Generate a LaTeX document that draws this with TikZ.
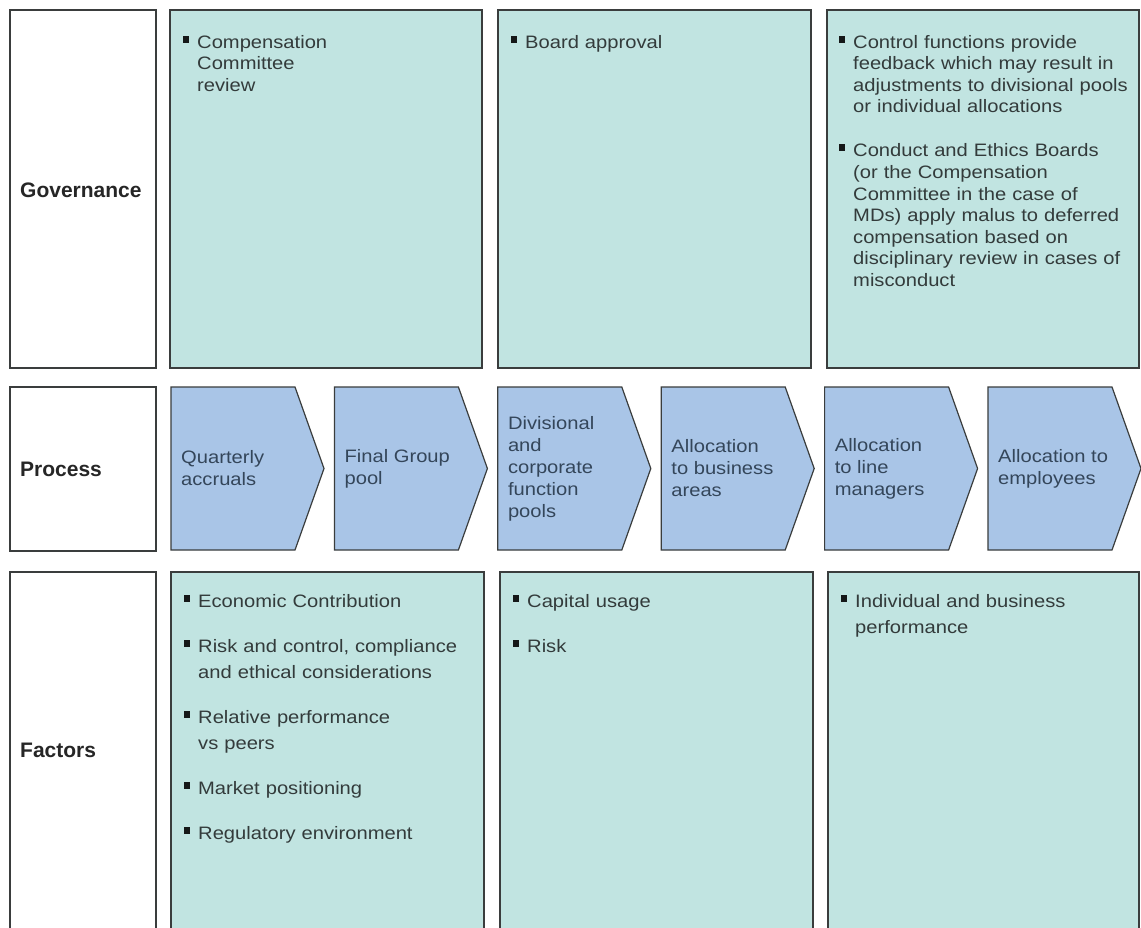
\documentclass[tikz,border=0pt]{standalone}
\usepackage{fontspec}
\setmainfont{Liberation Sans}[FakeStretch=1.12]
\newfontfamily\labelfont{Liberation Sans}

\definecolor{framecol}{HTML}{3A3D3D}
\definecolor{tealfill}{HTML}{C1E4E1}
\definecolor{chevfill}{HTML}{A9C5E7}
\definecolor{bodycol}{HTML}{333B3B}
\definecolor{chevtext}{HTML}{34465A}
\definecolor{labelcol}{HTML}{262626}
\definecolor{bulletcol}{HTML}{151818}

% square bullet hanging left of the text column
\newcommand\bul{\leavevmode\llap{\textcolor{bulletcol}{\rule[5.5pt]{5.5pt}{7pt}}\hspace{8.5pt}}}

\begin{document}
\begin{tikzpicture}[x=1pt,y=-1pt,
  frame/.style={draw=framecol, line width=1.2pt, inner sep=0pt, outer sep=0pt, anchor=north west},
  rowlabel/.style={frame, fill=white},
  cellbox/.style={frame, fill=tealfill},
  labeltext/.style={anchor=base west, inner sep=0pt, text=labelcol,
    font=\labelfont\bfseries\fontsize{21}{25}\selectfont},
  govtext/.style={anchor=base west, inner sep=0pt, text width=300pt, align=left,
    text=bodycol, font=\fontsize{18}{21.6}\selectfont},
  factext/.style={anchor=base west, inner sep=0pt, text width=300pt, align=left,
    text=bodycol, font=\fontsize{18}{26}\selectfont},
  chevron/.style={draw=framecol, line width=1.2pt, fill=chevfill, line join=miter},
  steptext/.style={anchor=west, inner sep=0pt, align=left, text=chevtext,
    font=\fontsize{18}{22}\selectfont}
]
\useasboundingbox (0,0) rectangle (1141,927);
\fill[white] (0,0) rectangle (1141,927);

% row headings
\node[rowlabel, minimum width=146pt, minimum height=358pt] (govL) at (10,10) {};
\node[rowlabel, minimum width=146pt, minimum height=164pt] (procL) at (10,387) {};
\node[rowlabel, minimum width=146pt, minimum height=362pt] (facL) at (10,572) {};
\node[labeltext] (govT) at (20,197) {Governance};
\node[labeltext] (procT) at (20,476) {Process};
\node[labeltext] (facT) at (20,757) {Factors};

% governance cells
\node[cellbox, minimum width=312pt, minimum height=358pt] (g1) at (170,10) {};
\node[cellbox, minimum width=313pt, minimum height=358pt] (g2) at (498,10) {};
\node[cellbox, minimum width=312pt, minimum height=358pt] (g3) at (827,10) {};

\node[govtext] (g1t) at (197,48) {\bul Compensation\\Committee\\review};
\node[govtext] (g2t) at (525,48) {\bul Board approval};
\node[govtext] (g3t) at (853,48) {\bul Control functions provide\\feedback which may result in\\adjustments to divisional pools\\or individual allocations\par\vspace{22.5pt}%
\bul Conduct and Ethics Boards\\(or the Compensation\\Committee in the case of\\MDs) apply malus to deferred\\compensation based on\\disciplinary review in cases of\\misconduct};

% process chevrons
\foreach \i/\s/\t in {1/171/{Quarterly\\accruals},
                      2/334.4/{Final Group\\pool},
                      3/497.8/{Divisional\\and\\corporate\\function\\pools},
                      4/661.2/{Allocation\\to business\\areas},
                      5/824.6/{Allocation\\to line\\managers},
                      6/988/{Allocation to\\employees}}{
  \draw[chevron] (\s,387) -- (\s+124,387) -- (\s+153,468.5) -- (\s+124,550) -- (\s,550) -- cycle;
  \node[steptext] (p\i) at (\s+10,468.5) {\t};
}

% factor cells
\node[cellbox, minimum width=313pt, minimum height=362pt] (f1) at (171,572) {};
\node[cellbox, minimum width=313pt, minimum height=362pt] (f2) at (500,572) {};
\node[cellbox, minimum width=311pt, minimum height=362pt] (f3) at (828,572) {};

\node[factext] (f1t) at (198,607) {\bul Economic Contribution\par\vspace{19pt}%
\bul Risk and control, compliance\\and ethical considerations\par\vspace{19pt}%
\bul Relative performance\\vs peers\par\vspace{19pt}%
\bul Market positioning\par\vspace{19pt}%
\bul Regulatory environment};
\node[factext] (f2t) at (527,607) {\bul Capital usage\par\vspace{19pt}\bul Risk};
\node[factext] (f3t) at (855,607) {\bul Individual and business\\performance};
\end{tikzpicture}
\end{document}
